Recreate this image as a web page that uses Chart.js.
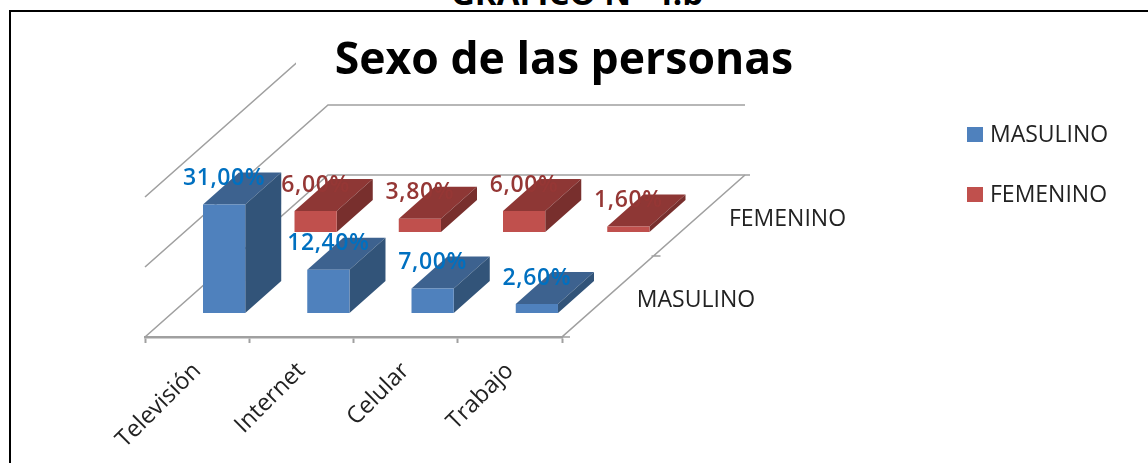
<!DOCTYPE html>
<html lang="es">
<head>
<meta charset="utf-8">
<title>Sexo de las personas</title>
<script src="https://cdn.jsdelivr.net/npm/chart.js@4"></script>
<style>
    html, body { margin: 0; padding: 0; background: #fff; overflow: hidden; }
    #page { position: relative; width: 1148px; height: 463px; overflow: hidden; }
    #heading {
        position: absolute; left: 0; top: -27px; width: 1154px; text-align: center;
        font: bold 33px/40px "Open Sans", sans-serif; color: #000;
    }
    #frame {
        position: absolute; left: 9px; top: 10px; right: -5px; bottom: -5px;
        border: 2px solid #000; border-right: none; border-bottom: none;
        background: #fff;
    }
    #chartBox { position: absolute; left: 0; top: 0; width: 1148px; height: 463px; }
</style>
</head>
<body>
<div id="page">
    <div id="heading">GRAFICO N° 4.b</div>
    <div id="frame"></div>
    <div id="chartBox"><canvas id="chart"></canvas></div>
</div>
<script>
const categories = ["Televisión", "Internet", "Celular", "Trabajo"];
const seriesNames = ["MASULINO", "FEMENINO"];
const masulino = [31.0, 12.4, 7.0, 2.6];
const femenino = [6.0, 3.8, 6.0, 1.6];

const FONT = '"Open Sans", sans-serif';
const GRID = "#a0a0a0";

// how far the floor runs back, in px
const floorDx = 183;
const floorDy = -162;
const faces = [
    { front: "#4f81bd", top: "#3d628f", side: "#325479", text: "#0070c0" },
    { front: "#c0504d", top: "#8e3735", side: "#782f2d", text: "#953735" }
];

// each series sits in its own slot of the floor
function slotOffset(index) {
    const pos = (index + 0.295) / seriesNames.length;
    return { x: floorDx * pos, y: floorDy * pos };
}
const barDepth = { x: 36, y: -32 };

function percentText(v) {
    return v.toFixed(2).replace(".", ",") + "%";
}

function polygon(ctx, points, color) {
    ctx.beginPath();
    points.forEach((p, i) => i ? ctx.lineTo(p[0], p[1]) : ctx.moveTo(p[0], p[1]));
    ctx.closePath();
    ctx.fillStyle = color;
    ctx.fill();
}

const bars3d = {
    id: "bars3d",
    afterLayout(chart) {
        // title is centred on the frame, not on the padded plot
        chart.titleBlock.left = 0;
        chart.titleBlock.right = 1128;
    },
    beforeDraw(chart) {
        const ctx = chart.ctx;
        const { left, right } = chart.chartArea;
        const yScale = chart.scales.y;

        ctx.save();
        ctx.strokeStyle = GRID;
        ctx.lineWidth = 1.6;
        yScale.ticks.forEach(tick => {
            const y = yScale.getPixelForValue(tick.value);
            ctx.beginPath();
            ctx.moveTo(left, y);
            ctx.lineTo(left + floorDx, y + floorDy);
            ctx.lineTo(right + floorDx + (tick.value === 0 ? 5 : 0), y + floorDy);
            ctx.stroke();
        });

        // right edge of the floor with its series ticks
        const y0 = yScale.getPixelForValue(0);
        ctx.beginPath();
        ctx.moveTo(right + floorDx, y0 + floorDy);
        ctx.lineTo(right, y0);
        ctx.lineTo(right + 8, y0);
        ctx.moveTo(right + floorDx / 2 - 2, y0 + floorDy / 2);
        ctx.lineTo(right + floorDx / 2 + 7, y0 + floorDy / 2);
        ctx.stroke();

        // the title box hides the top wall line
        ctx.fillStyle = "#fff";
        ctx.fillRect(296, 14, 540, 76);
        ctx.restore();
    },
    beforeDatasetDraw(chart, args) {
        const ctx = chart.ctx;
        const off = slotOffset(args.index);
        const face = faces[args.index];
        ctx.save();
        ctx.translate(off.x, off.y);
        args.meta.data.forEach(bar => {
            const l = bar.x - bar.width / 2;
            const r = bar.x + bar.width / 2;
            const t = bar.y;
            const b = bar.base;
            polygon(ctx, [[l, t], [r, t], [r + barDepth.x, t + barDepth.y], [l + barDepth.x, t + barDepth.y]], face.top);
            polygon(ctx, [[r, t], [r + barDepth.x, t + barDepth.y], [r + barDepth.x, b + barDepth.y], [r, b]], face.side);
        });
    },
    afterDatasetDraw(chart) {
        chart.ctx.restore();
    },
    afterDatasetsDraw(chart) {
        const ctx = chart.ctx;
        ctx.save();
        ctx.textAlign = "center";
        ctx.textBaseline = "middle";
        ctx.font = "600 23px " + FONT;
        ctx.letterSpacing = "0.6px";
        chart.data.datasets.forEach((ds, i) => {
            const off = slotOffset(i);
            ctx.fillStyle = faces[i].text;
            chart.getDatasetMeta(i).data.forEach((bar, j) => {
                ctx.fillText(percentText(ds.data[j]), bar.x + off.x, bar.y + off.y - 26);
            });
        });
        ctx.letterSpacing = "0px";

        // series names on the depth axis
        ctx.font = "23px " + FONT;
        ctx.fillStyle = "#222";
        const { right } = chart.chartArea;
        const y0 = chart.scales.y.getPixelForValue(0);
        seriesNames.forEach((name, i) => {
            const off = slotOffset(i);
            ctx.fillText(name, right + off.x + 107, y0 + off.y - 13);
        });

        // legend
        ctx.textAlign = "left";
        chart.data.datasets.forEach((ds, i) => {
            const y = 134.5 + i * 60;
            ctx.fillStyle = ds.backgroundColor;
            ctx.fillRect(967, y - 7.5, 16, 15);
            ctx.fillStyle = "#222";
            ctx.fillText(ds.label, 990, y + 1);
        });
        ctx.restore();
    }
};

new Chart(document.getElementById("chart"), {
    type: "bar",
    data: {
        labels: categories,
        datasets: [
            { label: seriesNames[0], data: masulino, backgroundColor: faces[0].front, clip: false },
            { label: seriesNames[1], data: femenino, backgroundColor: faces[1].front, clip: false }
        ]
    },
    options: {
        responsive: true,
        maintainAspectRatio: false,
        animation: false,
        layout: { padding: { left: 145, right: 586, top: 0, bottom: 0 } },
        grouped: false,
        barPercentage: 0.405,
        categoryPercentage: 1,
        plugins: {
            legend: { display: false },
            tooltip: { enabled: false },
            title: {
                display: true,
                text: "Sexo de las personas",
                color: "#000",
                font: { family: FONT, size: 44.5, weight: "bold", lineHeight: 1.2 },
                padding: { top: 35, bottom: 108.6 }
            }
        },
        scales: {
            x: {
                afterFit: scale => { scale.height = 126; },
                grid: { drawOnChartArea: false, color: GRID, tickColor: GRID, tickLength: 6, tickWidth: 2 },
                border: { color: GRID, width: 2.5 },
                ticks: {
                    autoSkip: false,
                    minRotation: 45,
                    maxRotation: 45,
                    padding: 14,
                    color: "#222",
                    font: { family: FONT, size: 23.5 }
                }
            },
            y: {
                min: 0,
                max: 40,
                afterFit: scale => { scale.width = 0; },
                grid: { display: false },
                border: { display: false },
                ticks: { display: false, stepSize: 20 }
            }
        }
    },
    plugins: [bars3d]
});
</script>
</body>
</html>
